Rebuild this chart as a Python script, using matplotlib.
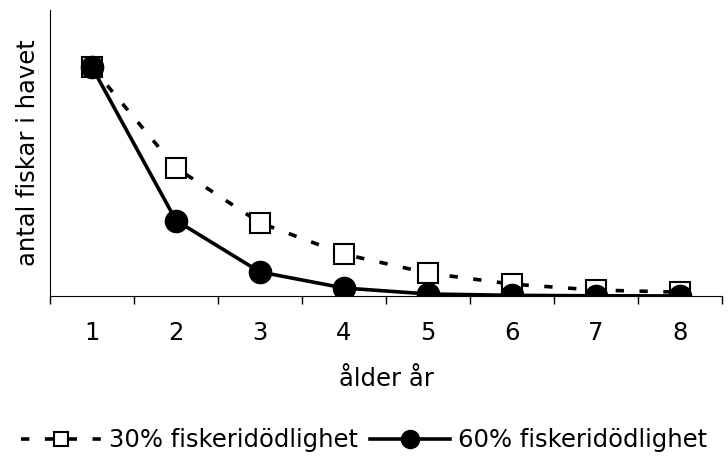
import matplotlib.pyplot as plt
from matplotlib.ticker import FixedLocator

# data (relative numbers, age 1 = 1.0)
ages = [1, 2, 3, 4, 5, 6, 7, 8]
fish_30 = [1.0, 0.56, 0.32, 0.183, 0.10, 0.052, 0.026, 0.017]
fish_60 = [1.0, 0.33, 0.105, 0.035, 0.009, 0.003, 0.001, 0.0003]

plt.rcParams['font.family'] = ['DejaVu Sans']
fs = 17.5

fig = plt.figure(figsize=(7.28, 4.65), dpi=100)
ax = fig.add_axes([0.0687, 0.3634, 0.9231, 0.6151])

l30, = ax.plot(ages, fish_30, color='black', lw=2.6, dashes=(2.3, 4.3),
               marker='s', ms=14, mfc='white', mec='black', mew=1.5,
               label='30% fiskeridödlighet')
l60, = ax.plot(ages, fish_60, color='black', lw=2.6,
               marker='o', ms=16, mfc='black', mec='black',
               label='60% fiskeridödlighet')

ax.set_xlim(0.5, 8.5)
ax.set_ylim(0, 1.25)

ax.set_xticks(ages)
ax.set_xticklabels([str(a) for a in ages])
ax.xaxis.set_minor_locator(FixedLocator([a + 0.5 for a in range(0, 9)]))
ax.tick_params(axis='x', which='major', length=0, labelsize=fs, pad=18)
ax.tick_params(axis='x', which='minor', length=6, width=1, direction='out')
ax.set_yticks([])

for s in ['top', 'right']:
    ax.spines[s].set_visible(False)

ax.set_xlabel('ålder år', fontsize=fs, labelpad=16)
ax.set_ylabel('antal fiskar i havet', fontsize=fs, labelpad=7)

leg = fig.legend(handles=[l30, l60], loc='center', bbox_to_anchor=(0.5, 0.053),
                 ncol=2, frameon=False, fontsize=fs, handlelength=3.3,
                 handletextpad=0.3, columnspacing=0.5)
# smaller markers in the legend
leg.legend_handles[0].set_markersize(10)
leg.legend_handles[1].set_markersize(13)

fig.savefig('out.png', dpi=100)
